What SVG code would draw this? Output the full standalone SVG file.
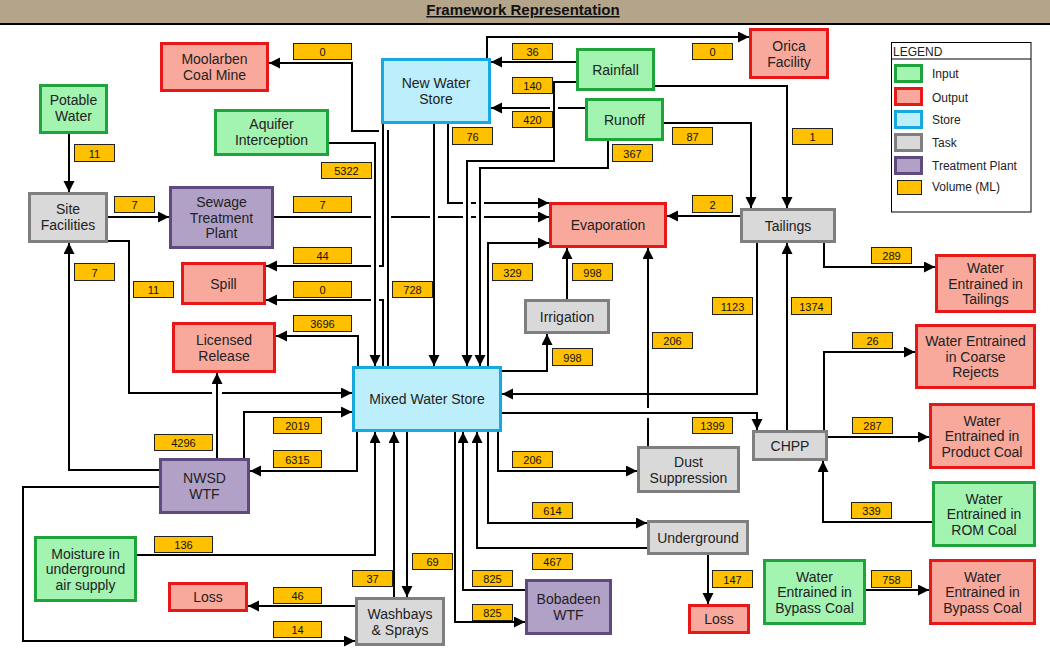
<svg xmlns="http://www.w3.org/2000/svg" width="1050" height="650" viewBox="0 0 1050 650">
<style>
.n rect{stroke-width:3}
.in{fill:#a3f3b1;stroke:#1fa33b}
.out{fill:#f9a99c;stroke:#e81818}
.st{fill:#bdeefc;stroke:#18a8e0}
.tk{fill:#d9d9d9;stroke:#7f7f7f}
.tp{fill:#b2a1c7;stroke:#5f4a7e}
text{font-family:"Liberation Sans",Arial,sans-serif}
.n text{font-size:14px;fill:#222;text-anchor:middle}
.v rect{fill:#ffc000;stroke:#222;stroke-width:1}
.v text{font-size:11px;fill:#111;text-anchor:middle}
#connectors path{fill:none;stroke:#000;stroke-width:2}
.lg text{font-size:12px;fill:#222}
</style>
<defs>
<marker id="ah" markerUnits="userSpaceOnUse" markerWidth="12" markerHeight="12" refX="11" refY="5.5" orient="auto"><path d="M0,0 L11,5.5 L0,11 z" fill="#000"/></marker>
</defs>
<rect x="0" y="0" width="1050" height="650" fill="#fff"/>
<g id="title">
<rect x="0" y="0" width="1050" height="23" fill="#b4a48a"/>
<line x1="0" y1="24" x2="1050" y2="24" stroke="#000" stroke-width="2"/>
<text x="523" y="15" font-size="15" font-weight="bold" text-anchor="middle" text-decoration="underline" fill="#111">Framework Representation</text>
</g>
<g id="legend" class="lg">
<rect x="891.5" y="42.5" width="139.5" height="169.5" fill="#fff" stroke="#000" stroke-width="1"/>
<line x1="891.5" y1="59" x2="1031" y2="59" stroke="#000" stroke-width="1"/>
<text x="893" y="56" font-size="11">LEGEND</text>
<rect class="in" x="895.5" y="65.5" width="26" height="16" stroke-width="3"/>
<text x="932" y="78">Input</text>
<rect class="out" x="895.5" y="88.5" width="26" height="16" stroke-width="3"/>
<text x="932" y="102">Output</text>
<rect class="st" x="895.5" y="111.5" width="26" height="16" stroke-width="3"/>
<text x="932" y="124">Store</text>
<rect class="tk" x="895.5" y="134.5" width="26" height="16" stroke-width="3"/>
<text x="932" y="147">Task</text>
<rect class="tp" x="895.5" y="157.5" width="26" height="16" stroke-width="3"/>
<text x="932" y="170">Treatment Plant</text>
<rect x="897.5" y="180.5" width="24" height="14" fill="#ffc000" stroke="#222" stroke-width="1"/>
<text x="932" y="191">Volume (ML)</text>
</g>
<g id="node-moolarben" class="n"><rect class="out" x="161.5" y="43.5" width="106" height="47"/><text x="214.5" y="64">Moolarben<tspan x="214.5" dy="16">Coal Mine</tspan></text></g>
<g id="node-potable" class="n"><rect class="in" x="40.5" y="85.5" width="66" height="47"/><text x="73.5" y="105">Potable<tspan x="73.5" dy="16">Water</tspan></text></g>
<g id="node-aquifer" class="n"><rect class="in" x="215.5" y="110.5" width="112" height="44"/><text x="271.5" y="129">Aquifer<tspan x="271.5" dy="16">Interception</tspan></text></g>
<g id="node-site" class="n"><rect class="tk" x="29.5" y="193.5" width="77" height="48"/><text x="68" y="214">Site<tspan x="68" dy="16">Facilities</tspan></text></g>
<g id="node-sewage" class="n"><rect class="tp" x="170.5" y="187.5" width="102" height="60"/><text x="221.5" y="207">Sewage<tspan x="221.5" dy="15.5">Treatment</tspan><tspan x="221.5" dy="15.5">Plant</tspan></text></g>
<g id="node-spill" class="n"><rect class="out" x="182.5" y="263.5" width="82" height="40"/><text x="223.5" y="288.5">Spill</text></g>
<g id="node-licensed" class="n"><rect class="out" x="173.5" y="323.5" width="101" height="48"/><text x="224" y="344.5">Licensed<tspan x="224" dy="16">Release</tspan></text></g>
<g id="node-nws" class="n"><rect class="st" x="382.5" y="59.5" width="107" height="63"/><text x="436" y="88">New Water<tspan x="436" dy="16">Store</tspan></text></g>
<g id="node-rainfall" class="n"><rect class="in" x="577.5" y="49.5" width="76" height="40"/><text x="615.5" y="74.5">Rainfall</text></g>
<g id="node-runoff" class="n"><rect class="in" x="586.5" y="99.5" width="76" height="40"/><text x="624.5" y="124.5">Runoff</text></g>
<g id="node-orica" class="n"><rect class="out" x="750.5" y="29.5" width="77" height="48"/><text x="789" y="50.5">Orica<tspan x="789" dy="16">Facility</tspan></text></g>
<g id="node-evaporation" class="n"><rect class="out" x="550.5" y="203.5" width="115" height="43"/><text x="608" y="230">Evaporation</text></g>
<g id="node-tailings" class="n"><rect class="tk" x="741.5" y="209.5" width="93" height="32"/><text x="788" y="230.5">Tailings</text></g>
<g id="node-irrigation" class="n"><rect class="tk" x="525.5" y="300.5" width="83" height="32"/><text x="567" y="321.5">Irrigation</text></g>
<g id="node-mws" class="n"><rect class="st" x="353.5" y="367.5" width="147" height="63"/><text x="427" y="404">Mixed Water Store</text></g>
<g id="node-wet-tailings" class="n"><rect class="out" x="936.5" y="255.5" width="98" height="56"/><text x="985.5" y="273">Water<tspan x="985.5" dy="15.5">Entrained in</tspan><tspan x="985.5" dy="15.5">Tailings</tspan></text></g>
<g id="node-wet-coarse" class="n"><rect class="out" x="916.5" y="325.5" width="118" height="62"/><text x="975.5" y="346">Water Entrained<tspan x="975.5" dy="15.5">in Coarse</tspan><tspan x="975.5" dy="15.5">Rejects</tspan></text></g>
<g id="node-wet-product" class="n"><rect class="out" x="930.5" y="404.5" width="103" height="63"/><text x="982" y="425.5">Water<tspan x="982" dy="15.5">Entrained in</tspan><tspan x="982" dy="15.5">Product Coal</tspan></text></g>
<g id="node-wet-rom" class="n"><rect class="in" x="933.5" y="482.5" width="101" height="63"/><text x="984" y="503.5">Water<tspan x="984" dy="15.5">Entrained in</tspan><tspan x="984" dy="15.5">ROM Coal</tspan></text></g>
<g id="node-chpp" class="n"><rect class="tk" x="753.5" y="431.5" width="73" height="28"/><text x="790" y="450.5">CHPP</text></g>
<g id="node-dust" class="n"><rect class="tk" x="638.5" y="447.5" width="100" height="44"/><text x="688.5" y="466.5">Dust<tspan x="688.5" dy="16">Suppression</tspan></text></g>
<g id="node-underground" class="n"><rect class="tk" x="648.5" y="521.5" width="99" height="32"/><text x="698" y="542.5">Underground</text></g>
<g id="node-loss-right" class="n"><rect class="out" x="689.5" y="605.5" width="59" height="27"/><text x="719" y="624">Loss</text></g>
<g id="node-bypass-in" class="n"><rect class="in" x="764.5" y="560.5" width="100" height="63"/><text x="814.5" y="581.5">Water<tspan x="814.5" dy="15.5">Entrained in</tspan><tspan x="814.5" dy="15.5">Bypass Coal</tspan></text></g>
<g id="node-bypass-out" class="n"><rect class="out" x="930.5" y="560.5" width="104" height="63"/><text x="982.5" y="581.5">Water<tspan x="982.5" dy="15.5">Entrained in</tspan><tspan x="982.5" dy="15.5">Bypass Coal</tspan></text></g>
<g id="node-nwsd" class="n"><rect class="tp" x="160.5" y="459.5" width="88" height="53"/><text x="204.5" y="483">NWSD<tspan x="204.5" dy="16">WTF</tspan></text></g>
<g id="node-moisture" class="n"><rect class="in" x="35.5" y="537.5" width="100" height="63"/><text x="85.5" y="558.5">Moisture in<tspan x="85.5" dy="15.5">underground</tspan><tspan x="85.5" dy="15.5">air supply</tspan></text></g>
<g id="node-loss-left" class="n"><rect class="out" x="169.5" y="583.5" width="77" height="27"/><text x="208" y="602">Loss</text></g>
<g id="node-washbays" class="n"><rect class="tk" x="356.5" y="598.5" width="87" height="46"/><text x="400" y="618.5">Washbays<tspan x="400" dy="16">&amp; Sprays</tspan></text></g>
<g id="node-bobadeen" class="n"><rect class="tp" x="526.5" y="580.5" width="84" height="53"/><text x="568.5" y="604">Bobadeen<tspan x="568.5" dy="16">WTF</tspan></text></g>
<g id="connectors">
<path marker-end="url(#ah)" d="M69,134 L69,192"/>
<path marker-end="url(#ah)" d="M108,217 L169,217"/>
<path marker-end="url(#ah)" d="M274,217 L371,217 M391,217 L430,217 M438,217 L463,217 M471,217 L476,217 M484,217 L549,217"/>
<path marker-end="url(#ah)" d="M448,124 L448,203 L463,203 M471,203 L476,203 M484,203 L549,203"/>
<path marker-end="url(#ah)" d="M488,366 L488,243 L549,243"/>
<path marker-end="url(#ah)" d="M567,299 L567,248"/>
<path marker-end="url(#ah)" d="M502,371 L547,371 L547,334"/>
<path marker-end="url(#ah)" d="M648,446 L648,418 M648,408 L648,248"/>
<path marker-end="url(#ah)" d="M740,216 L667,216"/>
<path marker-end="url(#ah)" d="M655,86 L787,86 L787,208"/>
<path marker-end="url(#ah)" d="M664,123 L751,123 L751,208"/>
<path marker-end="url(#ah)" d="M487,58 L487,37 L749,37"/>
<path marker-end="url(#ah)" d="M576,62 L491,62"/>
<path marker-end="url(#ah)" d="M585,108 L558,108 M550,108 L491,108"/>
<path marker-end="url(#ah)" d="M576,82 L554,82 L554,161 L467,161 L467,366"/>
<path marker-end="url(#ah)" d="M608,141 L608,168 L480,168 L480,366"/>
<path marker-end="url(#ah)" d="M434,124 L434,366"/>
<path marker-end="url(#ah)" d="M383,124 L383,266 L379,266 M371,266 L266,266"/>
<path marker-end="url(#ah)" d="M383,366 L383,300 L379,300 M371,300 L266,300"/>
<path marker-end="url(#ah)" d="M388,366 L388,131 L387,131 M379,131 L352,131 L352,63 L269,63"/>
<path marker-end="url(#ah)" d="M329,143 L375,143 L375,366"/>
<path marker-end="url(#ah)" d="M358,366 L358,336 L276,336"/>
<path marker-end="url(#ah)" d="M108,241 L129,241 L129,393 L212,393 M222,393 L352,393"/>
<path marker-end="url(#ah)" d="M217,458 L217,373"/>
<path marker-end="url(#ah)" d="M244,458 L244,412 L352,412"/>
<path marker-end="url(#ah)" d="M357,432 L357,471 L250,471"/>
<path marker-end="url(#ah)" d="M159,470 L69,470 L69,243"/>
<path marker-end="url(#ah)" d="M159,487 L23,487 L23,641 L355,641"/>
<path marker-end="url(#ah)" d="M137,555 L375,555 L375,432"/>
<path marker-end="url(#ah)" d="M355,606 L248,606"/>
<path marker-end="url(#ah)" d="M394,597 L394,432"/>
<path marker-end="url(#ah)" d="M407,432 L407,597"/>
<path marker-end="url(#ah)" d="M455,432 L455,622 L525,622"/>
<path marker-end="url(#ah)" d="M525,590 L463,590 L463,432"/>
<path marker-end="url(#ah)" d="M647,548 L477,548 L477,432"/>
<path marker-end="url(#ah)" d="M488,432 L488,523 L647,523"/>
<path marker-end="url(#ah)" d="M498,432 L498,471 L637,471"/>
<path marker-end="url(#ah)" d="M708,555 L708,604"/>
<path marker-end="url(#ah)" d="M757,243 L757,394 L502,394"/>
<path marker-end="url(#ah)" d="M502,413 L757,413 L757,430"/>
<path marker-end="url(#ah)" d="M787,430 L787,243"/>
<path marker-end="url(#ah)" d="M824,243 L824,267 L935,267"/>
<path marker-end="url(#ah)" d="M824,430 L824,352 L915,352"/>
<path marker-end="url(#ah)" d="M828,437 L929,437"/>
<path marker-end="url(#ah)" d="M932,522 L823,522 L823,461"/>
<path marker-end="url(#ah)" d="M866,590 L929,590"/>
</g>
<g id="volumes">
<g class="v"><rect x="293.5" y="43.5" width="58" height="16"/><text x="322.5" y="56">0</text></g>
<g class="v"><rect x="74.5" y="144.5" width="40" height="17"/><text x="94.5" y="157.5">11</text></g>
<g class="v"><rect x="321.5" y="162.5" width="50" height="16"/><text x="346.5" y="175">5322</text></g>
<g class="v"><rect x="114.5" y="196.5" width="40" height="16"/><text x="134.5" y="209">7</text></g>
<g class="v"><rect x="293.5" y="196.5" width="58" height="16"/><text x="322.5" y="209">7</text></g>
<g class="v"><rect x="74.5" y="263.5" width="40" height="17"/><text x="94.5" y="276.5">7</text></g>
<g class="v"><rect x="133.5" y="281.5" width="40" height="16"/><text x="153.5" y="294">11</text></g>
<g class="v"><rect x="293.5" y="247.5" width="58" height="16"/><text x="322.5" y="260">44</text></g>
<g class="v"><rect x="293.5" y="281.5" width="58" height="16"/><text x="322.5" y="294">0</text></g>
<g class="v"><rect x="293.5" y="315.5" width="58" height="16"/><text x="322.5" y="328">3696</text></g>
<g class="v"><rect x="273.5" y="417.5" width="48" height="16"/><text x="297.5" y="430">2019</text></g>
<g class="v"><rect x="154.5" y="434.5" width="58" height="16"/><text x="183.5" y="447">4296</text></g>
<g class="v"><rect x="273.5" y="450.5" width="48" height="17"/><text x="297.5" y="463.5">6315</text></g>
<g class="v"><rect x="154.5" y="536.5" width="58" height="16"/><text x="183.5" y="549">136</text></g>
<g class="v"><rect x="273.5" y="587.5" width="48" height="16"/><text x="297.5" y="600">46</text></g>
<g class="v"><rect x="273.5" y="621.5" width="48" height="16"/><text x="297.5" y="634">14</text></g>
<g class="v"><rect x="392.5" y="281.5" width="40" height="16"/><text x="412.5" y="294">728</text></g>
<g class="v"><rect x="512.5" y="43.5" width="40" height="16"/><text x="532.5" y="56">36</text></g>
<g class="v"><rect x="512.5" y="77.5" width="40" height="16"/><text x="532.5" y="90">140</text></g>
<g class="v"><rect x="512.5" y="111.5" width="40" height="16"/><text x="532.5" y="124">420</text></g>
<g class="v"><rect x="452.5" y="127.5" width="40" height="17"/><text x="472.5" y="140.5">76</text></g>
<g class="v"><rect x="612.5" y="144.5" width="40" height="17"/><text x="632.5" y="157.5">367</text></g>
<g class="v"><rect x="672.5" y="127.5" width="40" height="17"/><text x="692.5" y="140.5">87</text></g>
<g class="v"><rect x="692.5" y="43.5" width="40" height="16"/><text x="712.5" y="56">0</text></g>
<g class="v"><rect x="792.5" y="128.5" width="40" height="16"/><text x="812.5" y="141">1</text></g>
<g class="v"><rect x="692.5" y="195.5" width="40" height="17"/><text x="712.5" y="208.5">2</text></g>
<g class="v"><rect x="492.5" y="263.5" width="40" height="17"/><text x="512.5" y="276.5">329</text></g>
<g class="v"><rect x="572.5" y="263.5" width="40" height="17"/><text x="592.5" y="276.5">998</text></g>
<g class="v"><rect x="552.5" y="348.5" width="40" height="17"/><text x="572.5" y="361.5">998</text></g>
<g class="v"><rect x="652.5" y="332.5" width="40" height="16"/><text x="672.5" y="345">206</text></g>
<g class="v"><rect x="871.5" y="247.5" width="40" height="16"/><text x="891.5" y="260">289</text></g>
<g class="v"><rect x="712.5" y="297.5" width="40" height="17"/><text x="732.5" y="310.5">1123</text></g>
<g class="v"><rect x="791.5" y="297.5" width="40" height="17"/><text x="811.5" y="310.5">1374</text></g>
<g class="v"><rect x="852.5" y="332.5" width="40" height="16"/><text x="872.5" y="345">26</text></g>
<g class="v"><rect x="852.5" y="417.5" width="40" height="16"/><text x="872.5" y="430">287</text></g>
<g class="v"><rect x="692.5" y="417.5" width="40" height="16"/><text x="712.5" y="430">1399</text></g>
<g class="v"><rect x="512.5" y="451.5" width="40" height="16"/><text x="532.5" y="464">206</text></g>
<g class="v"><rect x="532.5" y="502.5" width="40" height="16"/><text x="552.5" y="515">614</text></g>
<g class="v"><rect x="532.5" y="553.5" width="40" height="16"/><text x="552.5" y="566">467</text></g>
<g class="v"><rect x="412.5" y="553.5" width="40" height="16"/><text x="432.5" y="566">69</text></g>
<g class="v"><rect x="352.5" y="570.5" width="40" height="16"/><text x="372.5" y="583">37</text></g>
<g class="v"><rect x="472.5" y="570.5" width="40" height="16"/><text x="492.5" y="583">825</text></g>
<g class="v"><rect x="472.5" y="604.5" width="40" height="16"/><text x="492.5" y="617">825</text></g>
<g class="v"><rect x="851.5" y="502.5" width="40" height="16"/><text x="871.5" y="515">339</text></g>
<g class="v"><rect x="712.5" y="570.5" width="40" height="17"/><text x="732.5" y="583.5">147</text></g>
<g class="v"><rect x="871.5" y="570.5" width="40" height="17"/><text x="891.5" y="583.5">758</text></g>
</g>
</svg>
